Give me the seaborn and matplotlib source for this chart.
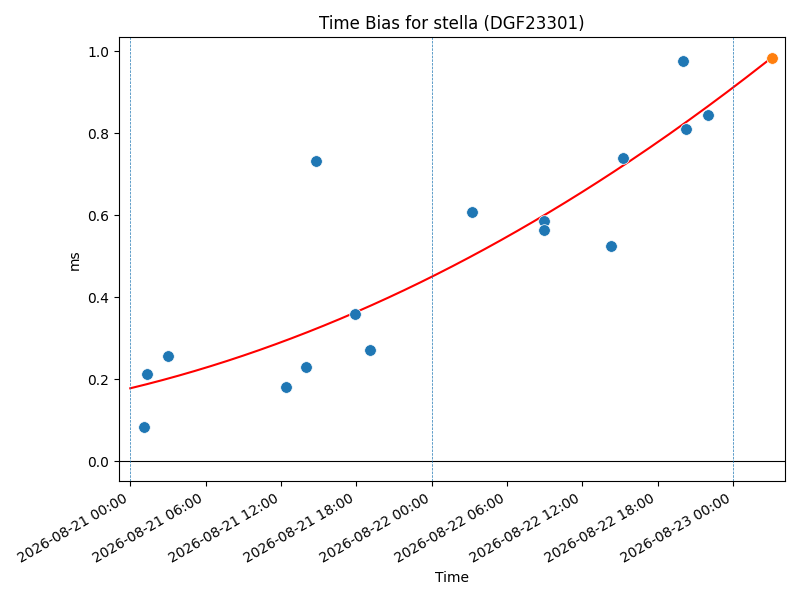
import numpy as np
import pandas as pd
import matplotlib
matplotlib.use('Agg')
import matplotlib.pyplot as plt
import matplotlib.dates as mdates
import seaborn as sns

# observed time bias samples
obs_times = [
    "2026-08-21 01:07", "2026-08-21 01:22", "2026-08-21 03:02", "2026-08-21 12:22",
    "2026-08-21 14:02", "2026-08-21 14:50", "2026-08-21 17:52", "2026-08-21 19:08",
    "2026-08-22 03:11", "2026-08-22 08:56", "2026-08-22 08:56", "2026-08-22 14:17",
    "2026-08-22 15:14", "2026-08-22 20:00", "2026-08-22 20:18", "2026-08-22 22:00",
]
obs_bias = [0.083, 0.212, 0.258, 0.180, 0.231, 0.732, 0.360, 0.272,
            0.608, 0.586, 0.564, 0.526, 0.740, 0.976, 0.810, 0.844]

# trend curve (quadratic in hours since curve_start)
curve_start = "2026-08-21 00:00"
trend_coef = [0.0001647, 0.00738, 0.178]   # c, b, a
predict_time = "2026-08-23 03:06"

day_lines = ["2026-08-21", "2026-08-22", "2026-08-23"]

df = pd.DataFrame({"time": pd.to_datetime(obs_times), "bias": obs_bias})
t0 = pd.Timestamp(curve_start)
t_end = pd.Timestamp(predict_time)

fit_t = pd.date_range(t0, t_end, periods=200)
fit_h = (fit_t - t0).total_seconds() / 3600
fit_y = np.polyval(trend_coef, fit_h)
pred_y = np.polyval(trend_coef, (t_end - t0).total_seconds() / 3600)

fig, ax = plt.subplots(figsize=(8, 6), dpi=100)
ax.plot(fit_t, fit_y, color="red", zorder=2)
sns.scatterplot(data=df, x="time", y="bias", s=70, color="#1f77b4",
                edgecolor="white", linewidth=0.5, ax=ax, zorder=3)
ax.scatter([t_end], [pred_y], s=70, color="#ff7f0e", edgecolor="white", linewidth=0.5, zorder=3)
ax.axhline(0, color="black", linewidth=0.8)
for d in day_lines:
    ax.axvline(pd.Timestamp(d), linestyle="--", linewidth=0.5)

ax.set_xlim(t0 - pd.Timedelta(minutes=53), t0 + pd.Timedelta(hours=52.15))
ax.xaxis.set_major_locator(mdates.HourLocator(byhour=[0, 6, 12, 18]))
ax.xaxis.set_major_formatter(mdates.DateFormatter("%Y-%m-%d %H:%M"))
fig.autofmt_xdate()
ax.set_xlabel("Time")
ax.set_ylabel("ms")
ax.set_title("Time Bias for stella (DGF23301)")
fig.tight_layout()
fig.savefig("out.png")
